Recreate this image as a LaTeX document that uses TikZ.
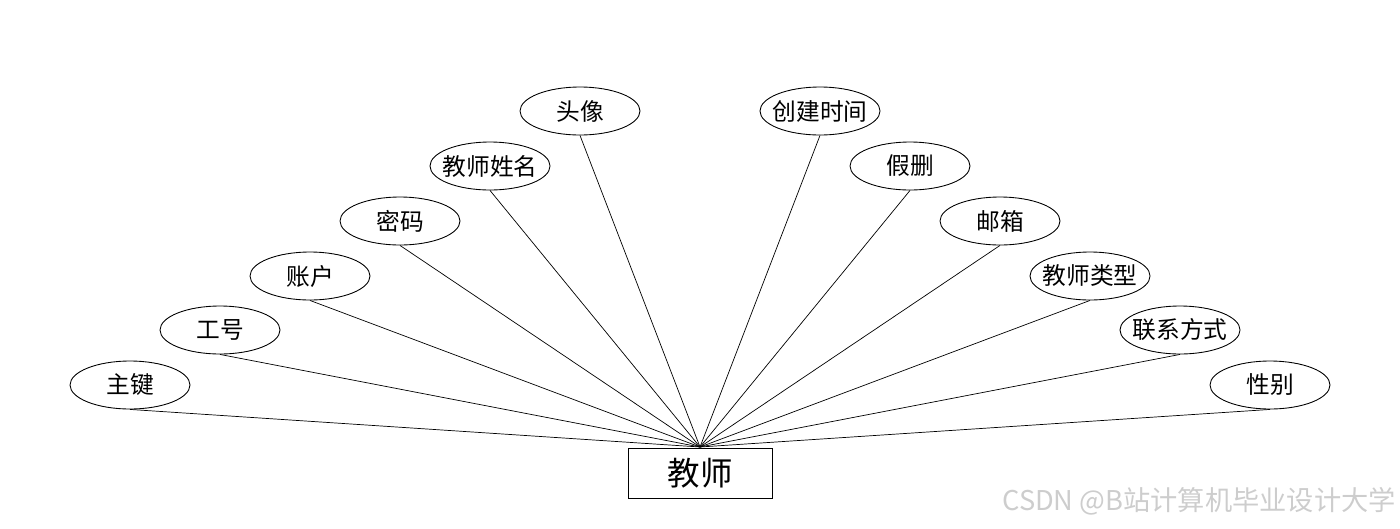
\documentclass[tikz,border=0pt]{standalone}
\usepackage{fontspec}
\setmainfont{Noto Sans CJK SC}
\usetikzlibrary{shapes.geometric}
\definecolor{erLine}{RGB}{0,0,0}
\definecolor{wmGray}{RGB}{205,205,205}
\tikzset{
  attrN/.style={ellipse, draw=erLine, line width=0.5pt, inner xsep=-0.1cm, inner ysep=0pt,
    minimum width=2.4cm, minimum height=0.96cm, font=\fontsize{13.5}{15}\selectfont},
  entN/.style={rectangle, draw=erLine, line width=0.5pt, inner sep=0pt,
    minimum width=2.88cm, minimum height=1.0cm, font=\fontsize{18.5}{20}\selectfont},
  link/.style={line width=0.4pt, color=erLine},
  wmark/.style={font=\fontsize{15.5}{17}\selectfont, text=wmGray, anchor=west, inner sep=0pt},
}
\begin{document}
\begin{tikzpicture}[x=0.02cm, y=-0.02cm]
\useasboundingbox (0,0) rectangle (1400,528);

%% ── ENTITY ─────────────────────────────────────────────
\node[entN] (teacher) at (700,473) {教师};
\coordinate (hub) at (700,447);

%% ── LEFT ATTRIBUTES ────────────────────────────────────
\node[attrN] (pk)    at (130,385) {主键};
\node[attrN] (num)   at (220,330) {工号};
\node[attrN] (acct)  at (310,276) {账户};
\node[attrN] (pwd)   at (400,221) {密码};
\node[attrN] (name)  at (490,166) {教师姓名};
\node[attrN] (photo) at (580,111) {头像};

%% ── RIGHT ATTRIBUTES ───────────────────────────────────
\node[attrN] (ctime) at (820,111) {创建时间};
\node[attrN] (del)   at (910,166) {假删};
\node[attrN] (mail)  at (1000,221) {邮箱};
\node[attrN] (type)  at (1090,276) {教师类型};
\node[attrN] (tel)   at (1180,330) {联系方式};
\node[attrN] (sex)   at (1270,385) {性别};

%% ── LINKS ──────────────────────────────────────────────
\draw[link] (pk.south) -- (hub);
\draw[link] (num.south) -- (hub);
\draw[link] (acct.south) -- (hub);
\draw[link] (pwd.south) -- (hub);
\draw[link] (name.south) -- (hub);
\draw[link] (photo.south) -- (hub);
\draw[link] (ctime.south) -- (hub);
\draw[link] (del.south) -- (hub);
\draw[link] (mail.south) -- (hub);
\draw[link] (type.south) -- (hub);
\draw[link] (tel.south) -- (hub);
\draw[link] (sex.south) -- (hub);

%% ── WATERMARK ──────────────────────────────────────────
\node[wmark] (wm) at (1002,501) {CSDN @B站计算机毕业设计大学};

\end{tikzpicture}
\end{document}
